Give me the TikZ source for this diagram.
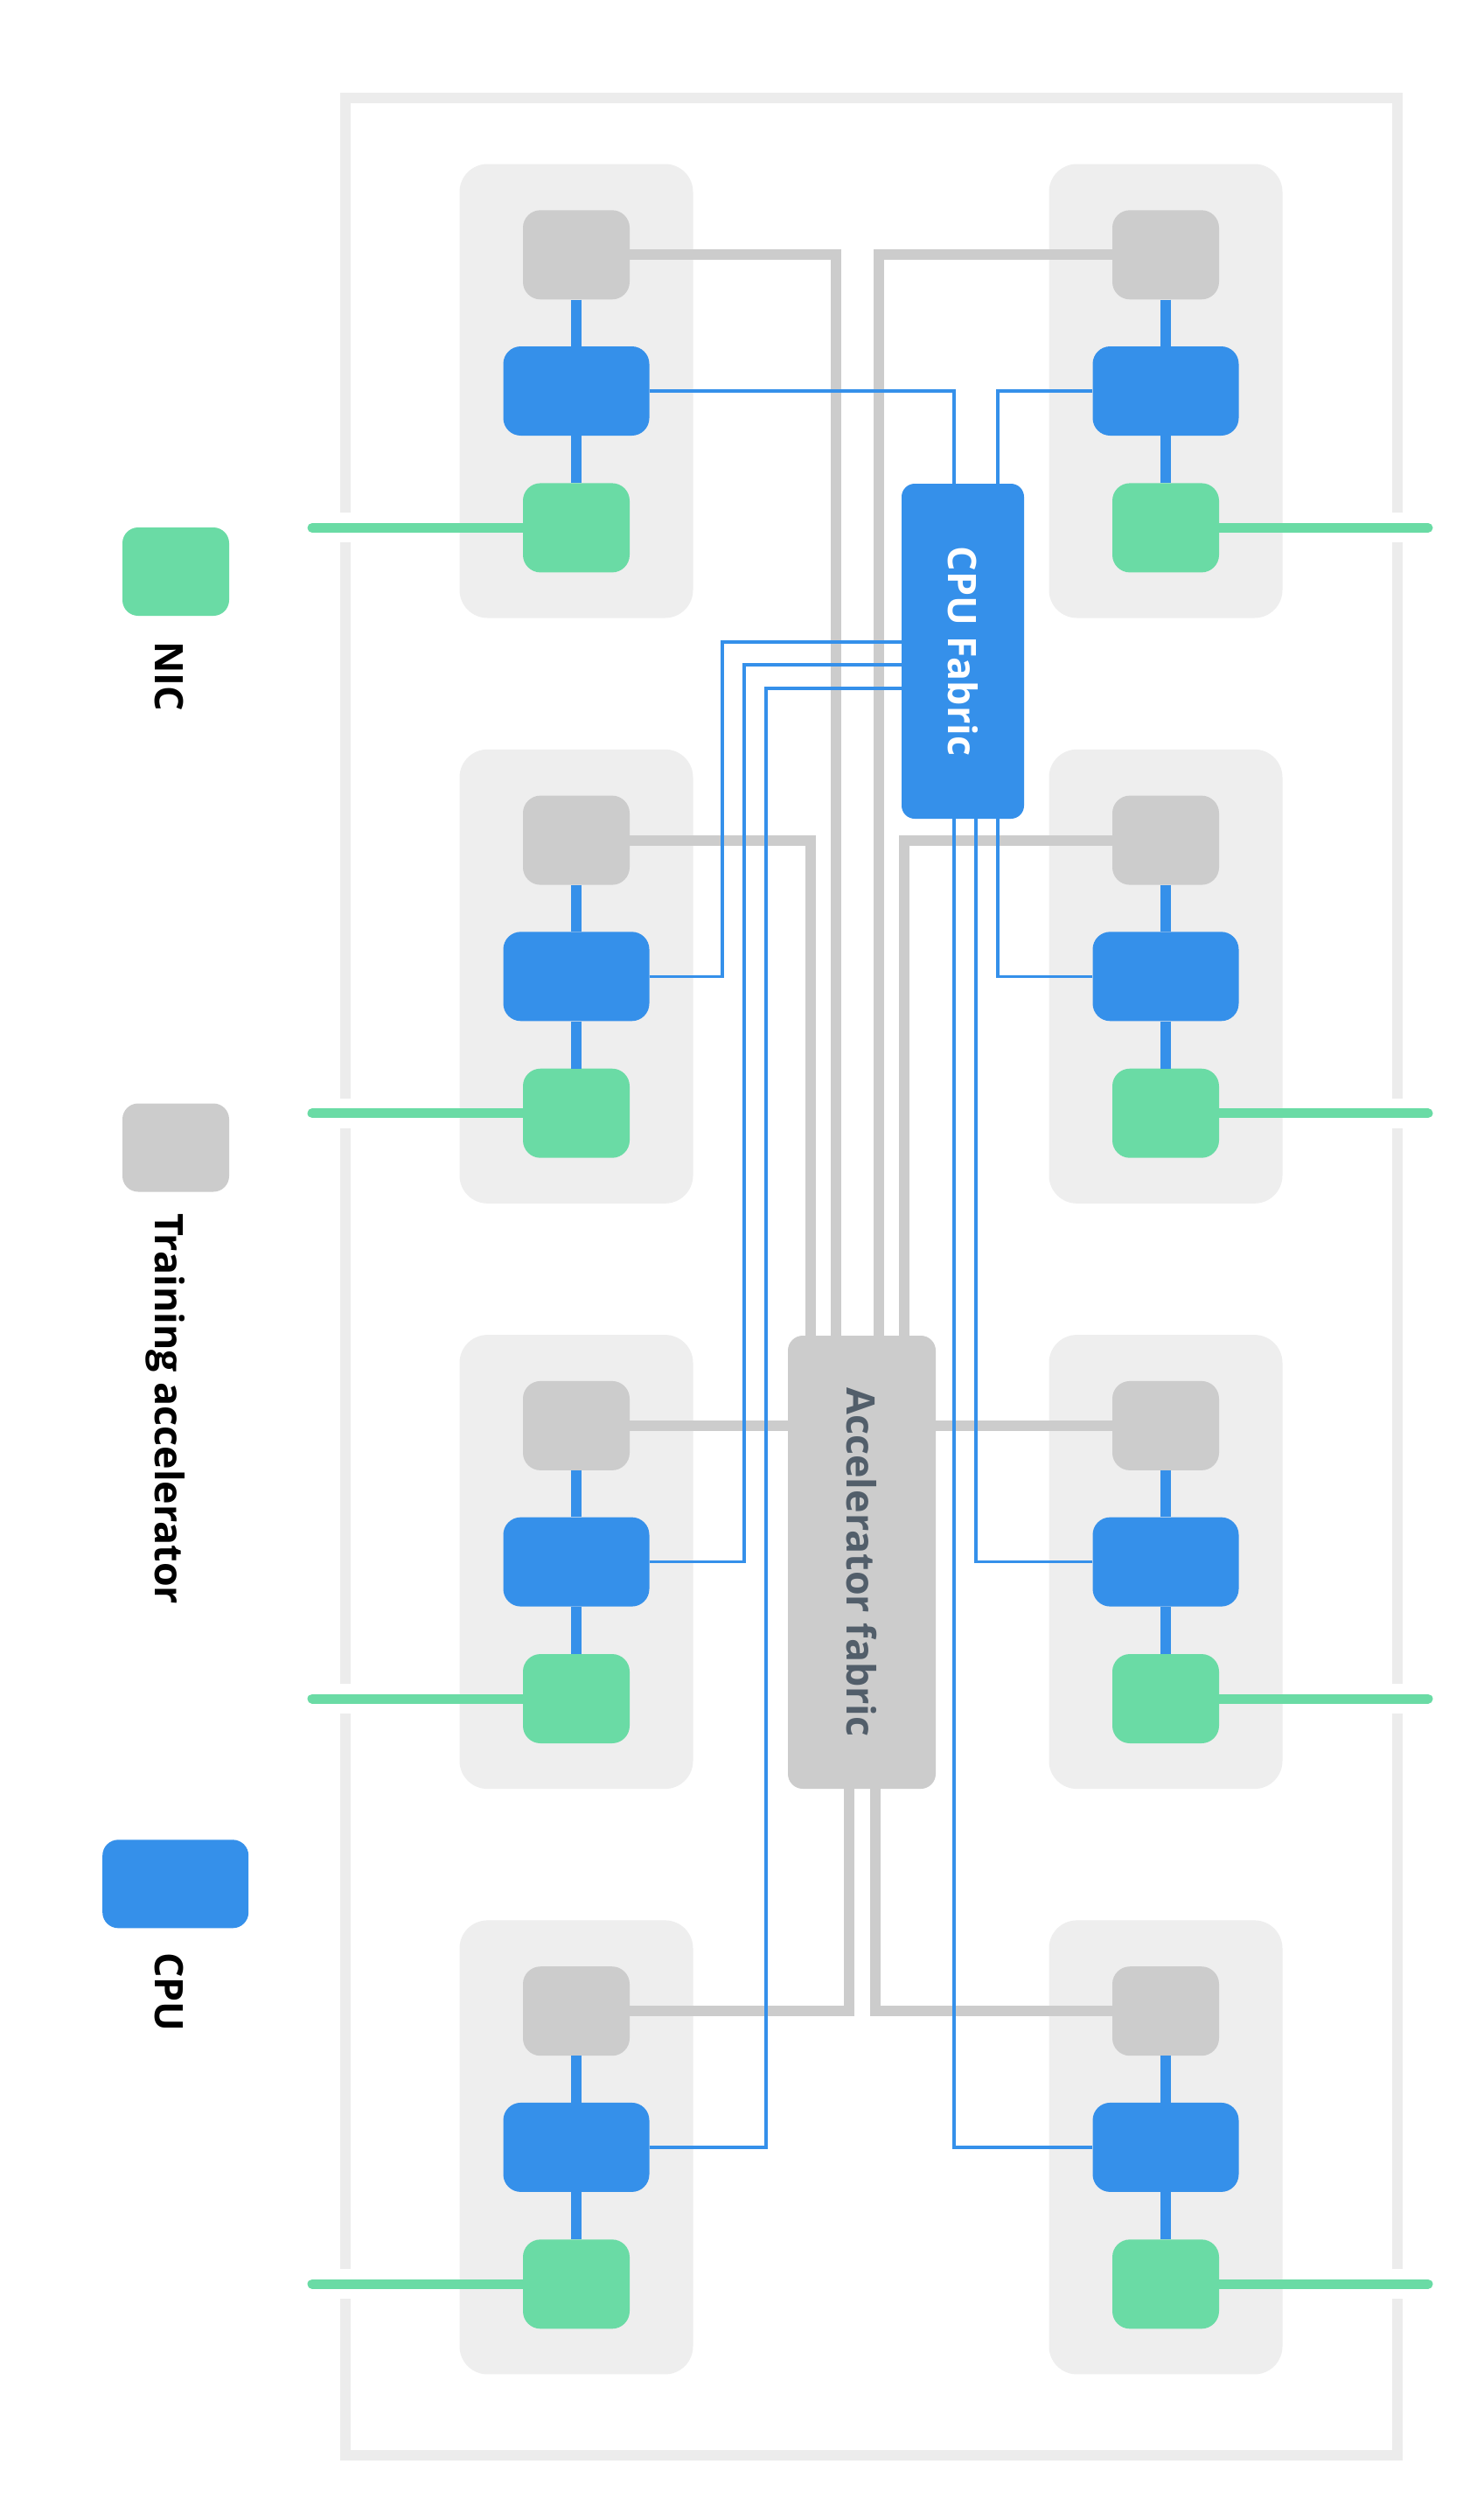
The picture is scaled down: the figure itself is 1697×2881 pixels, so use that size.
\documentclass[tikz,border=0pt]{standalone}
\usepackage{fontspec}
\setmainfont{Open Sans}
\definecolor{framegray}{HTML}{ECECEC}
\definecolor{groupbg}{HTML}{EEEEEE}
\definecolor{accgray}{HTML}{CCCCCC}
\definecolor{cpublue}{HTML}{3590EA}
\definecolor{nicgreen}{HTML}{6ADBA5}
\definecolor{fabtext}{HTML}{525E6A}
\begin{document}
\begin{tikzpicture}[x=1pt,y=-1pt,
  box/.style={rectangle, rounded corners=20pt, inner sep=0pt, draw=none},
  group/.style={box, fill=groupbg, rounded corners=32pt, minimum width=267pt, minimum height=519pt},
  accbox/.style={box, fill=accgray, minimum width=122pt, minimum height=102pt},
  cpubox/.style={box, fill=cpublue, minimum width=167pt, minimum height=102pt},
  nicbox/.style={box, fill=nicgreen, minimum width=122pt, minimum height=102pt},
  labeltext/.style={font=\bfseries\fontsize{44.8}{54}\selectfont},
  legendtext/.style={labeltext, text=black, inner sep=0pt, rotate=-90, anchor=base west},
  accline/.style={draw=accgray, line width=12pt},
  cpuline/.style={draw=cpublue, line width=3.3pt},
  vlink/.style={draw=cpublue, line width=12pt},
  niclink/.style={draw=nicgreen, line width=11pt, line cap=round},
]
% canvas
\fill[white] (0,0) rectangle (1697,2881);
\useasboundingbox (0,0) rectangle (1697,2881);

% enclosure
\draw[framegray, line width=11.5pt] (395,112) rectangle (1598,2807);

% server groups with accelerator, CPU and NIC
\foreach \k in {1,...,4}{
  \pgfmathsetmacro{\yc}{447+669.3*(\k-1)}
  \fill[white] (380,\yc+139.4) rectangle (410,\yc+173.4);
  \fill[white] (1583,\yc+139.4) rectangle (1613,\yc+173.4);
  \foreach \s/\gx in {L/659,R/1333}{
    \node[group] (g\s\k) at (\gx,\yc) {};
    \node[accbox] (a\s\k) at (\gx,\yc-155.7) {};
    \node[cpubox] (c\s\k) at (\gx,\yc) {};
    \node[nicbox] (n\s\k) at (\gx,\yc+156.4) {};
  }
  \coordinate (eL\k) at (357,\yc+156.4);
  \coordinate (eR\k) at (1633,\yc+156.4);
}

% fabrics
\node[box, fill=cpublue, rounded corners=15pt, minimum width=140pt, minimum height=383pt,
      labeltext, text=white] (cfab) at (1101,744.5) {\rotatebox{-90}{CPU Fabric}};
\node[box, fill=accgray, rounded corners=17pt, minimum width=169pt, minimum height=518pt,
      labeltext, text=fabtext] (afab) at (985.5,1786) {\rotatebox{-90}{Accelerator fabric}};

% tap positions
\coordinate (tx1) at (956,0);
\coordinate (tx2) at (927,0);
\coordinate (tx3) at (1005,0);
\coordinate (tx4) at (1034,0);
\coordinate (bx1) at (971,0);
\coordinate (bx2) at (1001,0);
\coordinate (bt1) at (1091,0);
\coordinate (bt2) at (1141,0);
\coordinate (bt3) at (1116,0);
\coordinate (lx1) at (826,0);
\coordinate (lx2) at (851,0);
\coordinate (lx3) at (876,0);
\coordinate (ly1) at (0,734);
\coordinate (ly2) at (0,760);
\coordinate (ly3) at (0,787);

% network uplinks
\foreach \k in {1,...,4}{
  \draw[niclink] (eL\k) -- (nL\k.west);
  \draw[niclink] (nR\k.east) -- (eR\k);
}

% accelerator fabric links
\draw[accline] (aL1.east) -| (tx1 |- afab.north);
\draw[accline] (aL2.east) -| (tx2 |- afab.north);
\draw[accline] (aR1.west) -| (tx3 |- afab.north);
\draw[accline] (aR2.west) -| (tx4 |- afab.north);
\draw[accline] (aL3.east) -- (aL3.east -| afab.west);
\draw[accline] (aR3.west) -- (aR3.west -| afab.east);
\draw[accline] (aL4.east) -| (bx1 |- afab.south);
\draw[accline] (aR4.west) -| (bx2 |- afab.south);

% CPU fabric links
\draw[cpuline] (cL1.east) -| (bt1 |- cfab.north);
\draw[cpuline] (cR1.west) -| (bt2 |- cfab.north);
\draw[cpuline] (cL2.east) -| (lx1 |- ly1) -- (cfab.west |- ly1);
\draw[cpuline] (cL3.east) -| (lx2 |- ly2) -- (cfab.west |- ly2);
\draw[cpuline] (cL4.east) -| (lx3 |- ly3) -- (cfab.west |- ly3);
\draw[cpuline] (cR2.west) -| (bt2 |- cfab.south);
\draw[cpuline] (cR3.west) -| (bt3 |- cfab.south);
\draw[cpuline] (cR4.west) -| (bt1 |- cfab.south);

% local links inside each server
\foreach \k in {1,...,4}{
  \foreach \s in {L,R}{
    \draw[vlink] (a\s\k) -- (c\s\k);
    \draw[vlink] (c\s\k) -- (n\s\k);
  }
}

% legend
\node[nicbox, rounded corners=18pt, minimum height=101pt] (lgNic) at (201,653.5) {};
\node[legendtext] (tNic) at (177,733) {NIC};
\node[accbox, rounded corners=18pt, minimum height=101pt] (lgAcc) at (201,1312) {};
\node[legendtext] (tAcc) at (177,1387) {Training accelerator};
\node[cpubox, rounded corners=18pt, minimum height=101pt] (lgCpu) at (200.7,2153.8) {};
\node[legendtext] (tCpu) at (177,2232) {CPU};
\end{tikzpicture}
\end{document}
